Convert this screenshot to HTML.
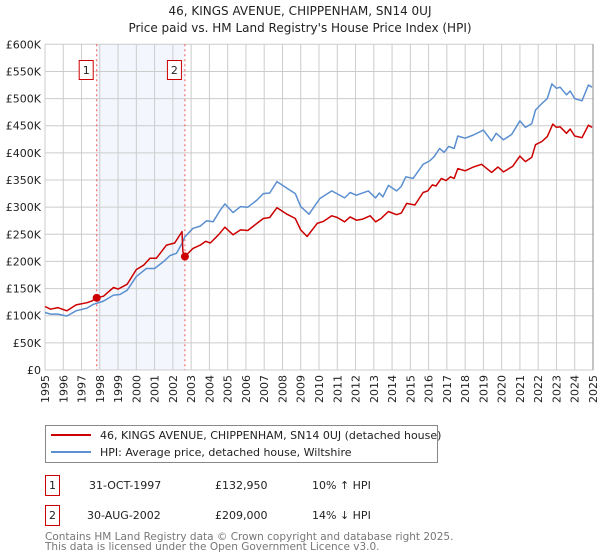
<!DOCTYPE html>
<html><head><meta charset="utf-8"><style>
body{margin:0;background:#fff;font-family:"Liberation Sans","DejaVu Sans",sans-serif;}
svg{display:block}
</style></head><body>
<svg id="chart" width="600" height="560" xmlns="http://www.w3.org/2000/svg" font-family="DejaVu Sans, Liberation Sans, sans-serif">
<text x="300" y="15" text-anchor="middle" font-size="12" fill="#222">46, KINGS AVENUE, CHIPPENHAM, SN14 0UJ</text>
<text x="300" y="32" text-anchor="middle" font-size="12" fill="#222">Price paid vs. HM Land Registry's House Price Index (HPI)</text>
<g id="grid"></g>
<g id="series"></g>
<g id="axes"></g>
<g>
<rect x="45.5" y="425.5" width="392" height="37" fill="#fff" stroke="#888"/>
<line x1="51" y1="435" x2="91" y2="435" stroke="#cc0000" stroke-width="2"/>
<text x="100" y="439" font-size="11" fill="#222">46, KINGS AVENUE, CHIPPENHAM, SN14 0UJ (detached house)</text>
<line x1="51" y1="452" x2="91" y2="452" stroke="#5b8fd0" stroke-width="2"/>
<text x="100" y="456" font-size="11" fill="#222">HPI: Average price, detached house, Wiltshire</text>
</g>
<g font-size="11" fill="#222">
<rect x="45.5" y="475.5" width="14" height="20" fill="#fff" stroke="#cc0000"/>
<text x="52.5" y="489" text-anchor="middle">1</text>
<text x="89" y="489">31-OCT-1997</text>
<text x="215" y="489">£132,950</text>
<text x="312" y="489">10% ↑ HPI</text>
<rect x="45.5" y="505.5" width="14" height="20" fill="#fff" stroke="#cc0000"/>
<text x="52.5" y="519" text-anchor="middle">2</text>
<text x="87" y="519">30-AUG-2002</text>
<text x="215" y="519">£209,000</text>
<text x="312" y="519">14% ↓ HPI</text>
</g>
<text x="45" y="540" font-size="10.5" fill="#777">Contains HM Land Registry data © Crown copyright and database right 2025.</text>
<text x="45" y="550" font-size="10.5" fill="#777">This data is licensed under the Open Government Licence v3.0.</text>
</svg>
<script>
const yearTicks=[1995,1996,1997,1998,1999,2000,2001,2002,2003,2004,2005,2006,2007,2008,2009,2010,2011,2012,2013,2014,2015,2016,2017,2018,2019,2020,2021,2022,2023,2024,2025];
const valueTicks=[0,50,100,150,200,250,300,350,400,450,500,550,600];
const valueTickLabels=["£0","£50K","£100K","£150K","£200K","£250K","£300K","£350K","£400K","£450K","£500K","£550K","£600K"];
const hpiYears=[1995.0,1995.3,1995.7,1996.2,1996.7,1997.3,1997.65,1998.2,1998.75,1999.1,1999.5,2000.0,2000.55,2001.0,2001.5,2001.85,2002.2,2002.5,2002.65,2003.1,2003.5,2003.85,2004.2,2004.6,2004.85,2005.3,2005.7,2006.1,2006.6,2006.95,2007.3,2007.7,2008.25,2008.7,2009.0,2009.45,2010.05,2010.7,2011.4,2011.7,2012.05,2012.7,2013.1,2013.3,2013.5,2013.8,2014.25,2014.5,2014.75,2015.15,2015.7,2016.05,2016.3,2016.6,2016.85,2017.1,2017.4,2017.6,2018.0,2018.45,2019.0,2019.45,2019.7,2020.1,2020.55,2021.0,2021.3,2021.65,2021.85,2022.2,2022.5,2022.75,2023.0,2023.2,2023.55,2023.75,2024.0,2024.4,2024.75,2024.95];
const hpiValues=[106,103,103,99.5,109,114,121,127,138,139,147,172,187,187,200,211,215,233,245,261,265,275,273,295,306,290,301,300,313,325,326,347,335,325,301,287,316,330,317,327,322,330,317,326,319,340,330,338,356,353,379,385,393,408,401,412,408,431,427,433,442,422,436,424,434,459,447,454,479,491,500,527,519,521,507,514,500,496,525,521];
const propYears=[1995.0,1995.3,1995.7,1996.2,1996.7,1997.3,1997.55,1997.83,1998.2,1998.75,1999.0,1999.5,2000.0,2000.4,2000.75,2001.1,2001.65,2002.1,2002.5,2002.55,2002.66,2003.1,2003.5,2003.8,2004.05,2004.5,2004.85,2005.3,2005.7,2006.1,2006.6,2006.95,2007.3,2007.7,2008.25,2008.7,2009.0,2009.35,2009.9,2010.25,2010.7,2011.0,2011.4,2011.7,2012.05,2012.4,2012.8,2013.1,2013.4,2013.8,2014.25,2014.5,2014.8,2015.25,2015.7,2015.95,2016.2,2016.4,2016.7,2016.95,2017.2,2017.4,2017.6,2018.0,2018.45,2018.9,2019.45,2019.8,2020.1,2020.6,2021.0,2021.3,2021.65,2021.85,2022.2,2022.5,2022.8,2023.0,2023.2,2023.55,2023.75,2024.0,2024.4,2024.75,2024.95];
const propValues=[117,112,115,109,120,124,127,132.95,136,152,149,158,185,193,206,206,230,234,255,218,209,224,230,237,234,249,263,249,258,257,270,279,281,299,287,279,258,246,270,274,284,281,273,282,276,278,284,273,279,292,286,289,307,304,327,330,341,339,353,349,356,353,371,367,374,379,364,374,365,375,394,384,392,415,421,430,453,447,448,436,444,431,428,451,447];
const saleYears=[1997.83,2002.66];
const saleValues=[132.95,209];
const saleLabels=["1","2"];
const NS="http://www.w3.org/2000/svg";
const X0=45,X1=593,Y0=370,Y1=44.3;
function xs(y){return X0+(y-1995)/30*(X1-X0);}
function ys(v){return Y0-v/600*(Y0-Y1);}
function mk(tag,attrs,parent){const e=document.createElementNS(NS,tag);for(const k in attrs)e.setAttribute(k,attrs[k]);parent.appendChild(e);return e;}
const grid=document.getElementById('grid'),series=document.getElementById('series'),axes=document.getElementById('axes');
const shade=mk('rect',{x:xs(saleYears[0]),y:Y1,width:xs(saleYears[1])-xs(saleYears[0]),height:Y0-Y1,fill:'#eef3fc',opacity:0.7},grid);


yearTicks.forEach(t=>{const l=mk('line',{x1:xs(t),x2:xs(t),y1:Y1,y2:Y0,stroke:'#cccccc','stroke-width':1},grid);


const tx=mk('text',{x:0,y:0,'font-size':11,fill:'#222','text-anchor':'end',transform:`translate(${xs(t)+4},${Y0+5}) rotate(-90)`},axes);tx.textContent=t;

});
valueTicks.forEach((v,i)=>{const l=mk('line',{x1:X0,x2:X1,y1:ys(v),y2:ys(v),stroke:'#cccccc','stroke-width':1},grid);


const tx=mk('text',{x:X0-4,y:ys(v)+4,'font-size':11,fill:'#222','text-anchor':'end'},axes);tx.textContent=valueTickLabels[i];

});
saleYears.forEach((y,i)=>{const l=mk('line',{x1:xs(y),x2:xs(y),y1:Y1,y2:Y0,stroke:'#e55','stroke-width':1,'stroke-dasharray':'2,3'},series);


const b=mk('rect',{x:xs(y)-17.5,y:60.5,width:14,height:19,fill:'#fff',stroke:'#cc0000'},series);


const t=mk('text',{x:xs(y)-10.5,y:74,'font-size':11,'text-anchor':'middle',fill:'#222'},series);t.textContent=saleLabels[i];

});
function path(xa,va,color,name){const d=xa.map((x,i)=>(i?'L':'M')+xs(x).toFixed(1)+','+ys(va[i]).toFixed(1)).join('');
const p=mk('path',{d:d,fill:'none',stroke:color,'stroke-width':1.5,'stroke-linejoin':'round'},series);

}
path(hpiYears,hpiValues,'#5b8fd0','hpi-line');
path(propYears,propValues,'#cc0000','property-line');
saleYears.forEach((y,i)=>{const c=mk('circle',{cx:xs(y),cy:ys(saleValues[i]),r:4,fill:'#cc0000'},series);

});
const ax=mk('line',{x1:X1,x2:X1,y1:Y1,y2:Y0,stroke:'#888','stroke-width':1},axes);


</script>
</body></html>
